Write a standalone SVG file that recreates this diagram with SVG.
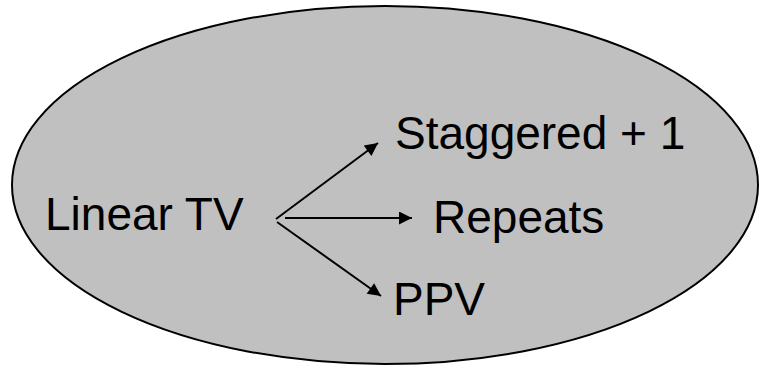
<svg xmlns="http://www.w3.org/2000/svg" width="759" height="368" viewBox="0 0 759 368">
  <style>
    .label { font-family: "Liberation Sans", Arial, sans-serif; font-size: 46px; fill: #000; }
    .conn { stroke: #000; stroke-width: 2; fill: none; marker-end: url(#arrow); }
  </style>
  <defs>
    <marker id="arrow" viewBox="0 0 10 10" refX="10" refY="5" markerWidth="8" markerHeight="6.5" markerUnits="strokeWidth" orient="auto">
      <path d="M0,0 L10,5 L0,10 z" fill="#000"/>
    </marker>
  </defs>

  <!-- background ellipse -->
  <ellipse cx="385" cy="185" rx="373" ry="179" fill="#c0c0c0" stroke="#000" stroke-width="2"/>

  <g id="linear-tv"><text class="label" x="45" y="230">Linear TV</text></g>
  <g id="staggered"><text class="label" x="395" y="149">Staggered + 1</text></g>
  <g id="repeats"><text class="label" x="433" y="233">Repeats</text></g>
  <g id="ppv"><text class="label" x="393" y="315">PPV</text></g>

  <g id="connectors">
    <line class="conn" x1="276" y1="219" x2="378" y2="143"/>
    <line class="conn" x1="285" y1="218" x2="412" y2="218"/>
    <line class="conn" x1="277" y1="222" x2="381" y2="296"/>
  </g>
</svg>
